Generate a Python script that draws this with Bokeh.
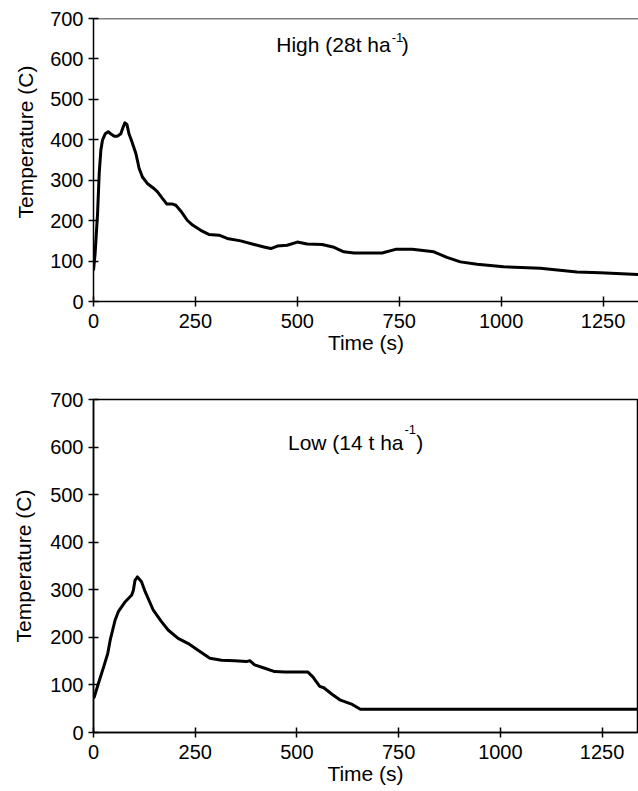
from bokeh.plotting import figure
from bokeh.layouts import column
from bokeh.models import Label, Span, FixedTicker, Range1d, Title
from bokeh.embed import file_html
from bokeh.resources import INLINE

FONT = "Liberation Sans"

# ---- data ----
x_ticks = [0, 250, 500, 750, 1000, 1250]
y_ticks = [0, 100, 200, 300, 400, 500, 600, 700]
x_max = 1337
y_max = 700

high_t = [0, 4, 10, 14, 18, 22, 29, 36, 42, 51, 59, 67, 73, 77, 82, 87, 93, 104, 112, 120,
          132, 149, 157, 169, 180, 194, 202, 214, 230, 243, 263, 283, 308, 328, 361, 394,
          418, 435, 451, 475, 500, 524, 561, 590, 614, 639, 708, 741, 782, 835, 867, 900,
          941, 1006, 1096, 1186, 1243, 1337]
high_T = [77, 119, 218, 317, 374, 399, 415, 420, 415, 409, 409, 415, 432, 442, 438, 415, 399,
          366, 329, 308, 292, 279, 271, 255, 241, 241, 238, 224, 201, 189, 176, 166, 164, 156,
          150, 141, 135, 131, 137, 139, 147, 142, 141, 134, 123, 120, 120, 129, 129, 123, 109,
          98, 92, 86, 82, 73, 71, 67]

low_t = [0, 2, 12, 25, 35, 41, 53, 61, 78, 94, 98, 102, 108, 118, 127, 147, 167, 184, 208,
         233, 257, 286, 315, 347, 376, 384, 396, 421, 445, 470, 527, 539, 556, 566, 587, 607,
         636, 656, 1337]
low_T = [72, 75, 103, 138, 166, 194, 236, 254, 275, 289, 299, 320, 327, 317, 296, 257, 233,
         215, 198, 187, 173, 156, 152, 151, 149, 151, 142, 135, 128, 127, 127, 117, 97, 94,
         80, 68, 59, 49, 49]

x_title = "Time (s)"
y_title = "Temperature (C)"


def style(p, with_ylabel=True):
    p.xgrid.visible = False
    p.ygrid.visible = False
    p.xaxis.ticker = FixedTicker(ticks=x_ticks)
    p.yaxis.ticker = FixedTicker(ticks=y_ticks)
    p.xaxis.axis_label = x_title
    if with_ylabel:
        p.yaxis.axis_label = y_title
    for ax in (p.xaxis[0], p.yaxis[0]):
        ax.axis_line_color = "black"
        ax.axis_line_width = 1.5
        ax.major_tick_line_color = "black"
        ax.major_tick_line_width = 1.5
        ax.major_tick_in = 5
        ax.major_tick_out = 5
        ax.minor_tick_line_color = None
        ax.major_label_text_font = FONT
        ax.major_label_text_font_size = "20px"
        ax.major_label_text_color = "black"
        ax.axis_label_text_font = FONT
        ax.axis_label_text_font_size = "21px"
        ax.axis_label_text_font_style = "normal"
        ax.axis_label_text_color = "black"
    p.xaxis.major_label_standoff = 7
    p.xaxis.axis_label_standoff = 0
    p.yaxis.major_label_standoff = 5
    p.yaxis.axis_label_standoff = 12
    p.background_fill_color = "white"
    p.border_fill_color = "white"


def title(p, main, sup, x_end, x_paren, y_base, y_sup):
    p.add_layout(Label(x=x_end, y=y_base, text=main, text_align="right",
                       text_baseline="alphabetic", text_font=FONT,
                       text_font_size="21px", text_color="black"))
    p.add_layout(Label(x=x_end, y=y_sup, text=sup, text_align="left",
                       text_baseline="alphabetic", text_font=FONT,
                       text_font_size="13px", text_color="black", x_offset=1))
    p.add_layout(Label(x=x_paren, y=y_base, text=")", text_align="left",
                       text_baseline="alphabetic", text_font=FONT,
                       text_font_size="21px", text_color="black"))


# ---- top panel ----
p1 = figure(frame_width=545, frame_height=283, min_border_left=93, min_border_right=0,
            min_border_top=18, min_border_bottom=60,
            x_range=Range1d(0, x_max), y_range=Range1d(0, y_max),
            output_backend="svg", toolbar_location=None)
style(p1, with_ylabel=False)
p1.outline_line_color = None
p1.add_layout(Span(location=y_max, dimension="width", line_color="black", line_width=1.5))
p1.line(high_t, high_T, line_color="black", line_width=3, line_join="round")
title(p1, "High (28t ha", "-1", 729, 756, 636, 654)
# y-axis title of the top panel sits above the frame centre in the reference
p1.add_layout(Title(text=y_title, align="left", offset=83, standoff=21,
                    text_font=FONT, text_font_size="21px", text_font_style="normal",
                    text_color="black"), "left")

# ---- bottom panel ----
p2 = figure(frame_width=544, frame_height=333, min_border_left=92, min_border_right=2,
            min_border_top=38, min_border_bottom=59,
            x_range=Range1d(0, x_max), y_range=Range1d(0, y_max),
            output_backend="svg", toolbar_location=None)
style(p2)
p2.outline_line_color = "black"
p2.outline_line_width = 1.5
p2.line(low_t, low_T, line_color="black", line_width=3, line_join="round")
title(p2, "Low (14 t ha", "-1", 762, 793, 609, 636)

layout = column(p1, p2, spacing=0)
open("out.html", "w").write(file_html(layout, INLINE))
